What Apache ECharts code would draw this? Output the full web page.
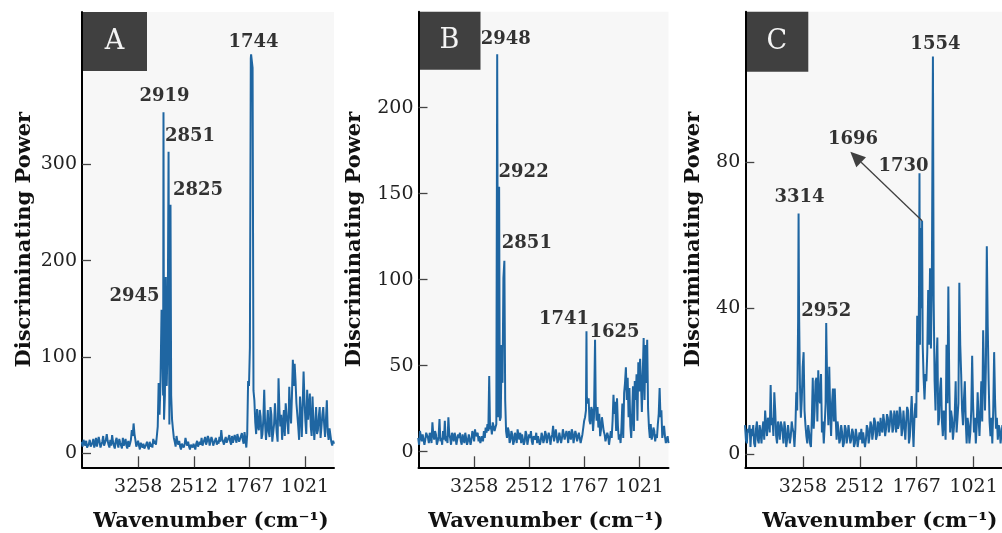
<!DOCTYPE html>
<html>
<head>
<meta charset="utf-8">
<script src="https://cdn.jsdelivr.net/npm/echarts@6/dist/echarts.min.js"></script>
<style>
  html, body { margin: 0; padding: 0; background: #ffffff; }
  #chart { width: 1002px; height: 533px; }
</style>
</head>
<body>
<div id="chart"></div>
<script>
// Spectra are sampled every 12 cm-1, starting at 4016 cm-1 and going down.
const WN_START = 4016;
const WN_STEP = 12;

// Wavenumber tick labels shared by the three panels
const wavenumberTicks = [3258, 2512, 1767, 1021];

// Discriminating power, panel A
const powerA = [
  12, 7, 14, 11, 8, 13, 6, 5, 10, 14, 7, 9, 11, 15, 6, 10, 16, 7, 9, 17,
  12, 6, 8, 12, 18, 8, 10, 14, 20, 13, 9, 6, 14, 8, 19, 12, 8, 5, 13, 16,
  10, 6, 15, 11, 9, 5, 16, 8, 11, 15, 8, 5, 13, 7, 10, 14, 24, 18, 31, 20,
  14, 7, 10, 13, 8, 4, 11, 9, 6, 10, 5, 3, 9, 12, 7, 4, 12, 7, 10, 6,
  15, 10, 13, 9, 18, 28, 73, 40, 70, 90, 120, 60, 35, 60, 183, 70, 110, 300, 30, 60,
  60, 35, 25, 16, 12, 7, 18, 12, 9, 13, 7, 4, 10, 12, 6, 9, 16, 11, 8, 12,
  7, 4, 9, 11, 6, 10, 8, 4, 10, 13, 7, 6, 12, 9, 16, 8, 11, 14, 17, 9,
  12, 18, 15, 8, 10, 17, 14, 8, 11, 10, 16, 9, 13, 10, 17, 12, 24, 15, 12, 9,
  14, 17, 11, 9, 16, 19, 12, 9, 18, 11, 13, 19, 15, 11, 20, 16, 12, 10, 18, 21,
  14, 10, 22, 14, 6, 20, 75, 70, 110, 410, 412, 400, 65, 55, 32, 20, 46, 28, 24, 45,
  38, 15, 20, 35, 66, 30, 14, 28, 45, 22, 17, 48, 40, 12, 10, 30, 52, 35, 21, 12,
  78, 45, 28, 40, 14, 30, 45, 18, 52, 40, 31, 20, 69, 45, 31, 60, 97, 70, 93, 75,
  52, 40, 28, 14, 59, 42, 17, 50, 85, 55, 34, 20, 66, 35, 48, 62, 28, 18, 59, 32,
  14, 30, 48, 20, 24, 38, 48, 16, 28, 40, 48, 30, 17, 35, 55, 22, 14, 26, 19, 12,
  8, 13, 10
];
// Labelled peaks, panel A: [wavenumber, power]
const peaksA = [[2945, 149], [2919, 354], [2851, 313], [2825, 258], [1744, 414]];
const yTicksA = [0, 100, 200, 300];

// Discriminating power, panel B
const powerB = [
  8, 4, 12, 9, 6, 10, 11, 4, 7, 11, 10, 8, 5, 11, 9, 5, 17, 10, 7, 12,
  10, 4, 6, 9, 19, 6, 8, 4, 12, 7, 18, 6, 9, 5, 20, 10, 8, 4, 11, 9,
  6, 11, 9, 4, 5, 10, 8, 11, 6, 4, 10, 9, 5, 11, 8, 4, 6, 10, 9, 4,
  7, 12, 10, 6, 13, 9, 8, 11, 6, 9, 5, 4, 9, 6, 12, 8, 14, 11, 16, 12,
  44, 13, 15, 10, 17, 16, 12, 14, 16, 231, 20, 150, 18, 20, 62, 40, 101, 110, 30, 12,
  8, 14, 12, 5, 7, 12, 10, 4, 6, 11, 9, 5, 13, 9, 7, 11, 5, 10, 9, 4,
  6, 12, 10, 4, 5, 10, 8, 12, 6, 4, 9, 10, 7, 11, 5, 9, 8, 4, 6, 11,
  9, 5, 7, 12, 10, 5, 6, 11, 9, 4, 8, 10, 15, 6, 9, 13, 12, 5, 7, 11,
  11, 5, 8, 13, 12, 7, 6, 12, 10, 5, 12, 9, 7, 13, 11, 5, 6, 12, 10, 6,
  7, 11, 12, 5, 6, 10, 14, 18, 20, 24, 32, 28, 31, 18, 16, 26, 24, 12, 20, 40,
  28, 18, 26, 14, 22, 9, 13, 20, 21, 12, 10, 6, 7, 11, 9, 4, 5, 12, 8, 18,
  33, 22, 29, 12, 31, 15, 7, 10, 5, 14, 28, 8, 34, 40, 49, 30, 43, 20, 37, 15,
  8, 22, 38, 12, 41, 30, 45, 18, 52, 35, 54, 40, 23, 45, 66, 30, 62, 40, 65, 25,
  14, 8, 16, 7, 9, 14, 12, 6, 10, 8, 16, 22, 37, 20, 24, 8, 12, 15, 9, 5,
  6, 9, 5
];
const peaksB = [[2948, 231], [2922, 154], [2851, 111], [1741, 70], [1625, 65]];
const yTicksB = [0, 50, 100, 150, 200];

// Discriminating power, panel C
const powerC = [
  8, 4, 3, 7, 6, 8, 2, 7, 5, 8, 3, 2, 7, 9, 4, 3, 8, 6, 3, 7,
  9, 4, 12, 8, 5, 10, 9, 6, 19, 8, 10, 5, 17, 12, 5, 3, 9, 7, 4, 9,
  8, 6, 3, 9, 7, 2, 4, 8, 8, 3, 5, 9, 7, 6, 2, 7, 17, 12, 37, 40,
  19, 10, 15, 24, 28, 12, 8, 5, 3, 8, 6, 3, 2, 10, 21, 7, 12, 20, 21, 9,
  23, 15, 14, 22, 6, 9, 3, 8, 14, 30, 16, 8, 24, 12, 5, 14, 18, 9, 18, 10,
  4, 9, 7, 3, 4, 8, 6, 2, 3, 8, 7, 3, 5, 8, 8, 3, 4, 7, 6, 2,
  3, 7, 5, 2, 2, 6, 4, 7, 3, 6, 6, 2, 4, 8, 7, 3, 5, 9, 8, 4,
  6, 10, 9, 4, 5, 9, 8, 5, 10, 7, 6, 11, 9, 5, 7, 11, 10, 6, 8, 12,
  11, 6, 7, 12, 10, 6, 12, 7, 8, 13, 11, 5, 7, 12, 12, 4, 9, 13, 12, 3,
  5, 11, 16, 8, 2, 10, 14, 10, 38, 17, 45, 30, 62, 40, 30, 21, 15, 22, 20, 28,
  45, 30, 51, 29, 48, 100, 42, 20, 12, 25, 32, 8, 10, 18, 21, 9, 5, 12, 9, 4,
  30, 14, 46, 20, 6, 12, 10, 4, 7, 11, 20, 6, 10, 14, 47, 30, 22, 12, 8, 15,
  20, 9, 3, 10, 8, 3, 6, 12, 27, 14, 6, 10, 3, 8, 17, 10, 5, 12, 20, 9,
  34, 22, 12, 24, 57, 35, 20, 9, 5, 10, 3, 12, 28, 15, 7, 10, 4, 8, 7, 3,
  3, 8, 6
];
const peaksC = [[3314, 66], [2952, 36], [1730, 77], [1696, 64], [1554, 109]];
const yTicksC = [0, 40, 80];

// Where the 1696 arrow points to, in data units of panel C
const arrowTipC = [2636, 82.9];

// ---------------------------------------------------------------------------
const SERIF = '"DejaVu Serif", "Liberation Serif", serif';
const LINE_COLOR = '#1f66a2';
const plain = v => String(v);

// Merge the regular samples with the labelled peak maxima (a sample that
// falls within a few cm-1 of a labelled peak gives way to the peak itself).
function spectrum(values, peaks) {
  const pts = values
    .map((v, i) => [WN_START - WN_STEP * i, v])
    .filter(pt => !peaks.some(p => Math.abs(p[0] - pt[0]) < 3.5));
  peaks.forEach(p => pts.push([p[0], p[1]]));
  pts.sort((a, b) => b[0] - a[0]);
  return pts;
}

const panels = [
  {
    name: 'A', values: powerA, peaks: peaksA, yTicks: yTicksA,
    yMin: -14.5, yMax: 458, yNameGap: 47, xNamePad: 6,
    grid: { left: 82, top: 12, width: 252, height: 455.3 },
    box: { w: 65, h: 59 },
    offsets: [[-27, -13], [1, -15.5], [21.5, -15], [27.5, -14], [2.5, -12.5]]
  },
  {
    name: 'B', values: powerB, peaks: peaksB, yTicks: yTicksB,
    yMin: -9.1, yMax: 255.8, yNameGap: 53, xNamePad: 5,
    grid: { left: 418.5, top: 11.7, width: 250, height: 455.6 },
    box: { w: 62, h: 58 },
    offsets: [[8.5, -15.5], [24.5, -14.5], [22.5, -17], [-22.5, -11.5], [19.5, -7.5]]
  },
  {
    name: 'C', values: powerC, peaks: peaksC, yTicks: yTicksC,
    yMin: -3.56, yMax: 121.3, yNameGap: 41, xNamePad: 11,
    grid: { left: 745.3, top: 11.7, width: 258, height: 455.6 },
    box: { w: 63, h: 60 },
    offsets: [[1, -16], [0, -12], [-16, -7.5], [-69, -81.5], [2.5, -12.5]]
  }
];

const grids = [], xAxes = [], yAxes = [], series = [], graphics = [];

panels.forEach((p, k) => {
  grids.push(Object.assign({
    show: true, backgroundColor: '#f7f7f7', borderWidth: 0,
    containLabel: false, outerBoundsMode: 'none'
  }, p.grid));

  xAxes.push({
    type: 'value', gridIndex: k, inverse: true, min: 632, max: 4012,
    name: 'Wavenumber (cm\u207B\u00B9)', nameLocation: 'middle', nameGap: 44,
    nameTextStyle: { fontFamily: SERIF, fontWeight: 'bold', fontSize: 21, color: '#111',
      padding: [0, 0, 0, p.xNamePad] },
    axisLine: { show: true, onZero: false, lineStyle: { color: '#000', width: 2 } },
    axisTick: { show: true, inside: true, length: 11, customValues: wavenumberTicks,
      lineStyle: { color: '#444', width: 1.3 } },
    axisLabel: { show: true, customValues: wavenumberTicks, margin: 10, interval: 0,
      hideOverlap: false, formatter: plain,
      fontFamily: SERIF, fontSize: 19, color: '#222' },
    splitLine: { show: false }
  });

  yAxes.push({
    type: 'value', gridIndex: k, min: p.yMin, max: p.yMax,
    name: 'Discriminating Power', nameLocation: 'middle', nameGap: p.yNameGap,
    nameTextStyle: { fontFamily: SERIF, fontWeight: 'bold', fontSize: 21, color: '#111' },
    axisLine: { show: true, onZero: false, lineStyle: { color: '#000', width: 2 } },
    axisTick: { show: true, inside: true, length: 9, customValues: p.yTicks,
      lineStyle: { color: '#444', width: 1.3 } },
    axisLabel: { show: true, customValues: p.yTicks, margin: 5, interval: 0,
      hideOverlap: false, formatter: plain,
      fontFamily: SERIF, fontSize: 19, color: '#222' },
    splitLine: { show: false }
  });

  series.push({
    type: 'line', xAxisIndex: k, yAxisIndex: k,
    data: spectrum(p.values, p.peaks),
    showSymbol: false, symbol: 'none', clip: true,
    lineStyle: { color: LINE_COLOR, width: 2 },
    itemStyle: { color: LINE_COLOR },
    z: 3
  });

  series.push({
    type: 'scatter', xAxisIndex: k, yAxisIndex: k,
    symbolSize: 1, itemStyle: { color: 'rgba(0,0,0,0)' },
    silent: true, z: 5,
    data: p.peaks.map((q, j) => ({
      value: [q[0], q[1]],
      label: { offset: p.offsets[j] }
    })),
    label: {
      show: true, position: 'inside',
      formatter: d => String(d.value[0]),
      fontFamily: SERIF, fontWeight: 'bold', fontSize: 18, color: '#000'
    }
  });

  if (p.name === 'C') {
    // Arrow from the 1696 peak towards its label
    const src = p.peaks.find(q => q[0] === 1696);
    series.push({
      type: 'custom', xAxisIndex: k, yAxisIndex: k, silent: true, z: 6,
      data: [[src[0], src[1], arrowTipC[0], arrowTipC[1]]],
      renderItem: (params, api) => {
        const a = api.coord([api.value(0), api.value(1)]);
        const b = api.coord([api.value(2), api.value(3)]);
        const dx = b[0] - a[0], dy = b[1] - a[1];
        const len = Math.sqrt(dx * dx + dy * dy);
        const ux = dx / len, uy = dy / len;
        const headL = 15, headW = 7;
        const base = [b[0] - ux * headL, b[1] - uy * headL];
        return {
          type: 'group',
          children: [
            { type: 'line', shape: { x1: a[0], y1: a[1], x2: base[0], y2: base[1] },
              style: { stroke: '#404040', lineWidth: 1.3 } },
            { type: 'polygon', shape: { points: [
                b,
                [base[0] - uy * headW, base[1] + ux * headW],
                [base[0] + uy * headW, base[1] - ux * headW]
              ] },
              style: { fill: '#404040' } }
          ]
        };
      }
    });
  }

  graphics.push({
    type: 'group', left: p.grid.left, top: p.grid.top, z: 10,
    children: [
      { type: 'rect', shape: { x: 0, y: 0, width: p.box.w, height: p.box.h },
        style: { fill: '#404040' } },
      { type: 'text', x: p.box.w / 2, y: p.box.h / 2,
        style: { text: p.name, align: 'center', verticalAlign: 'middle',
          fill: '#f4f4f4', fontFamily: SERIF, fontSize: 27 } }
    ]
  });
});

const chart = echarts.init(document.getElementById('chart'), null, { renderer: 'canvas' });
chart.setOption({
  animation: false,
  backgroundColor: '#ffffff',
  grid: grids,
  xAxis: xAxes,
  yAxis: yAxes,
  series: series,
  graphic: graphics
});
</script>
</body>
</html>
